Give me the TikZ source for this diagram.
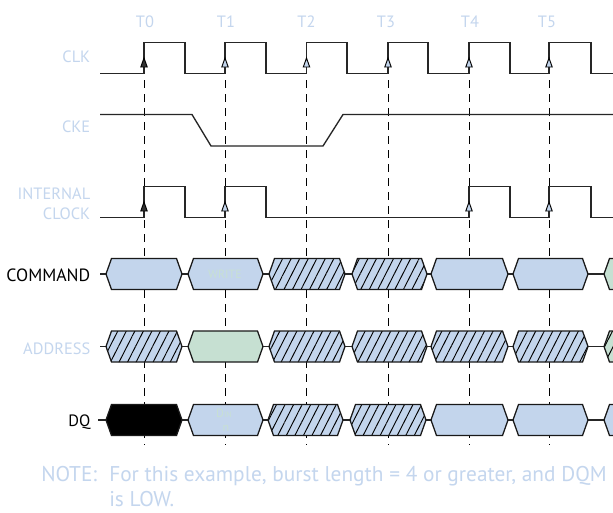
\documentclass[tikz,border=0pt]{standalone}
\usepackage{fontspec}
\setmainfont{PT Sans}
\usetikzlibrary{patterns.meta,arrows.meta}
\definecolor{pale}{HTML}{C4D6EE}
\definecolor{cellblue}{HTML}{C3D5EC}
\definecolor{cellgreen}{HTML}{C6E0D2}
\definecolor{ghost}{HTML}{C8E0D4}
\tikzset{
 sig/.style={draw=black!85,line width=1pt,line join=miter},
 guide/.style={draw=black,line width=0.75pt,dash pattern=on 6pt off 4.5pt},
 hexcell/.style={draw=black!90,line width=0.95pt,line join=miter},
 blue cell/.style={hexcell,fill=cellblue},
 green cell/.style={hexcell,fill=cellgreen},
 black cell/.style={hexcell,fill=black},
 blue hatch/.style={hexcell,preaction={fill=cellblue},pattern={Lines[angle=63,distance=5.7pt,line width=0.7pt]},pattern color=black},
 green hatch/.style={hexcell,preaction={fill=cellgreen},pattern={Lines[angle=63,distance=5.7pt,line width=0.7pt]},pattern color=black},
 pale label/.style={text=pale,font=\fontsize{12.3}{15}\selectfont,inner sep=0pt,anchor=east,align=right},
 dark label/.style={text=black,font=\fontsize{12.3}{15}\selectfont,inner sep=0pt,anchor=east},
 tick label/.style={text=pale,font=\fontsize{12.3}{15}\selectfont,inner sep=0pt},
 ghost label/.style={text=ghost,font=\fontsize{9}{10}\selectfont,inner sep=0pt},
 note text/.style={text=pale,font=\fontsize{16}{18.75}\selectfont,inner sep=0pt,anchor=base west},
 edge up/.style={draw=black,line width=0.7pt,fill=#1},
}
\newcommand{\cell}[4]{\path[#4] (#2,#1) -- (#2+5.5,#1-15.5) -- (#3-5.5,#1-15.5) -- (#3,#1) -- (#3-5.5,#1+15.5) -- (#2+5.5,#1+15.5) -- cycle;}
\newcommand{\edgemark}[3]{\path[edge up=#3] (#1,#2) -- (#1+3.2,#2+9) -- (#1-3.2,#2+9) -- cycle;}
\begin{document}
\begin{tikzpicture}[x=0.75pt,y=-0.75pt]
\path[use as bounding box,fill=white] (0,0) rectangle (613,512);
\clip (0,0) rectangle (613,512);
% guides
\foreach \g in {144,225.5,306.5,388,469.5,549}{\draw[guide] (\g,80) -- (\g,445);}
% CLK
\draw[sig] (100,73.5) -- (144,73.5) -- (144,42.5) -- (185,42.5) -- (185,73.5) -- (225,73.5) -- (225,42.5) -- (266,42.5) -- (266,73.5) -- (306.5,73.5) -- (306.5,42.5) -- (347,42.5) -- (347,73.5) -- (388,73.5) -- (388,42.5) -- (428,42.5) -- (428,73.5) -- (469,73.5) -- (469,42.5) -- (510,42.5) -- (510,73.5) -- (549,73.5) -- (549,42.5) -- (591,42.5) -- (591,73.5) -- (613,73.5);
% CKE
\draw[sig] (100,114.5) -- (192,114.5) -- (211,146) -- (323,146) -- (343,114.5) -- (613,114.5);
% internal clock
\draw[sig] (100,217.5) -- (144,217.5) -- (144,186.5) -- (185,186.5) -- (185,217.5) -- (225,217.5) -- (225,186.5) -- (266,186.5) -- (266,217.5) -- (469,217.5) -- (469,186.5) -- (510,186.5) -- (510,217.5) -- (549,217.5) -- (549,186.5) -- (591,186.5) -- (591,217.5) -- (613,217.5);
% edge marks
\edgemark{144}{58}{black!80}
\foreach \g in {225,306.5,388,469,549}{\edgemark{\g}{58}{cellblue}}
\edgemark{144}{202}{black!80}
\foreach \g in {225,469,549}{\edgemark{\g}{202}{cellblue}}
% bus lines
\foreach \r in {274,346.5}{\draw[sig] (100,\r) -- (613,\r);}
\draw[sig] (98,420) -- (613,420);
% COMMAND
\cell{274}{106}{182}{blue cell}
\cell{274}{188}{263}{blue cell}
\cell{274}{269}{345}{blue hatch}
\cell{274}{352}{427}{blue hatch}
\cell{274}{431}{508}{blue cell}
\cell{274}{513}{588}{blue cell}
\cell{274}{604}{680}{green cell}
% ADDRESS
\cell{346.5}{106}{182}{blue hatch}
\cell{346.5}{188}{263}{green cell}
\cell{346.5}{269}{345}{blue hatch}
\cell{346.5}{352}{427}{blue hatch}
\cell{346.5}{431}{508}{blue hatch}
\cell{346.5}{513}{588}{blue hatch}
\cell{346.5}{604}{680}{green hatch}
% DQ
\cell{420}{106}{182}{black cell}
\cell{420}{188}{263}{blue cell}
\cell{420}{268}{343}{blue hatch}
\cell{420}{350}{426}{blue hatch}
\cell{420}{431}{508}{blue cell}
\cell{420}{513}{588}{blue cell}
\cell{420}{604}{680}{blue cell}
% text
\node[tick label] (t0) at (145,22) {T0};
\node[tick label] (t1) at (226,22) {T1};
\node[tick label] (t2) at (306.5,22) {T2};
\node[tick label] (t3) at (386,22) {T3};
\node[tick label] (t4) at (470,22) {T4};
\node[tick label] (t5) at (547,22) {T5};
\node[pale label] (clk) at (90.5,57) {CLK};
\node[pale label] (cke) at (90.5,127) {CKE};
\node[pale label] (intclk) at (90.5,204) {INTERNAL\\CLOCK};
\node[dark label,font=\fontsize{13.3}{15}\selectfont] (cmd) at (90.5,275) {COMMAND};
\node[pale label] (addr) at (90.5,349) {ADDRESS};
\node[dark label] (dq) at (90.5,422) {DQ};
\node[ghost label] (write) at (225,274) {WRITE};
\node[ghost label] (din) at (224,413) {D{\fontsize{6}{6}\selectfont IN}};
\node[ghost label] (din2) at (226,428) {n};
\node[note text] (note) at (41,481) {NOTE:};
\node[note text] (notebody) at (109,481) {For this example, burst length = 4 or greater, and DQM};
\node[note text] (notebody2) at (109,506) {is LOW.};
\end{tikzpicture}
\end{document}
